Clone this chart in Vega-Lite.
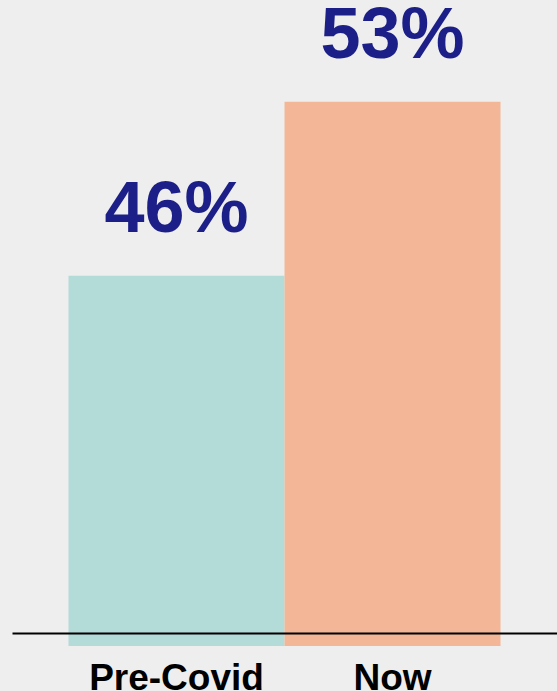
{
  "$schema": "https://vega.github.io/schema/vega-lite/v6.json",
  "width": 545,
  "height": 646,
  "autosize": {"type": "none"},
  "padding": {"left": 12, "top": 0, "right": 0, "bottom": 45},
  "background": "#eeeeee",
  "config": {"view": {"stroke": null}},
  "data": {"values": [
    {"period": "Pre-Covid", "share": 0.46},
    {"period": "Now", "share": 0.53}
  ]},
  "encoding": {
    "x": {
      "field": "period", "type": "nominal", "sort": ["Pre-Covid", "Now"],
      "scale": {"paddingInner": 0, "paddingOuter": 0.2616},
      "axis": {
        "title": null, "labelAngle": 0, "ticks": false,
        "domain": true, "domainColor": "#000000", "domainWidth": 2,
        "offset": -13, "zindex": 1,
        "labelPadding": 56, "labelBaseline": "alphabetic",
        "labelFont": "Liberation Sans", "labelFontSize": 37,
        "labelFontWeight": "bold", "labelColor": "#000000"
      }
    },
    "y": {
      "field": "share", "type": "quantitative",
      "scale": {"domain": [0.311, 0.571], "zero": false, "nice": false},
      "axis": null
    }
  },
  "layer": [
    {
      "mark": {"type": "bar"},
      "encoding": {
        "y2": {"datum": 0.311},
        "color": {
          "field": "period", "type": "nominal",
          "scale": {"domain": ["Pre-Covid", "Now"], "range": ["#b3dcd8", "#f3b797"]},
          "legend": null
        }
      }
    },
    {
      "mark": {
        "type": "text", "dy": -44, "baseline": "alphabetic",
        "font": "Liberation Sans", "fontSize": 72, "fontWeight": "bold",
        "color": "#1c1f87"
      },
      "encoding": {
        "text": {"field": "share", "type": "quantitative", "format": ".0%"}
      }
    }
  ]
}
